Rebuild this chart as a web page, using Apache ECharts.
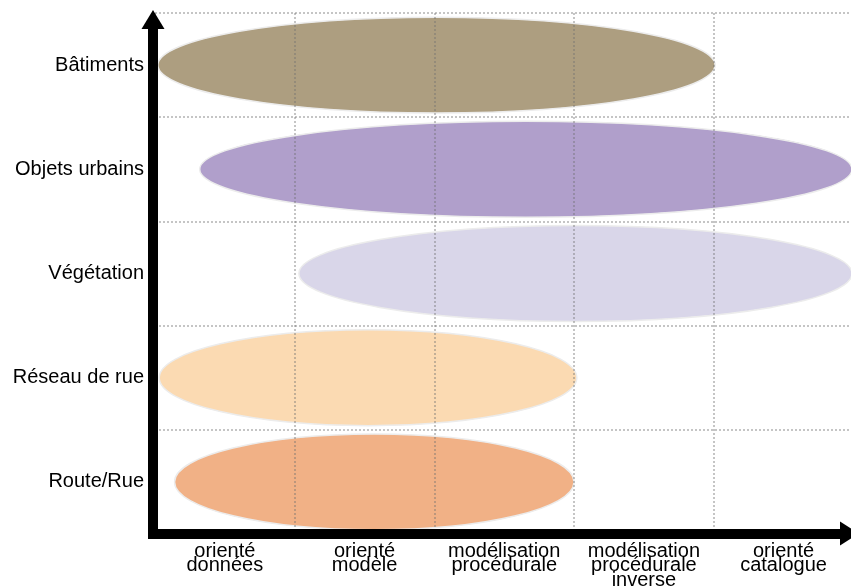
<!DOCTYPE html>
<html>
<head>
<meta charset="utf-8">
<script src="https://cdn.jsdelivr.net/npm/echarts@6/dist/echarts.min.js"></script>
<style>html,body{margin:0;padding:0;background:#fff}#c{width:851px;height:588px}</style>
</head>
<body>
<div id="c"></div>
<script>
// Categories (y from bottom to top) and x-axis method labels
const rowLabels = ['Route/Rue', 'Réseau de rue', 'Végétation', 'Objets urbains', 'Bâtiments'];
const colLabels = ['orienté\ndonnées', 'orienté\nmodèle', 'modélisation\nprocédurale', 'modélisation\nprocédurale\ninverse', 'orienté\ncatalogue'];
// Extent of each ellipse along the x categories (in category units, 0..5)
const startX = [0.14, 0.03, 1.03, 0.32, 0.02];
const endX   = [3.00, 3.02, 4.99, 4.99, 4.01];
// Ellipse height as fraction of a row
const heights = [0.92, 0.92, 0.92, 0.92, 0.92];
const colors = ['#f1b186', '#fbdab2', '#d9d6e9', '#b09fcb', '#ad9e80'];

const data = rowLabels.map((r, i) => [startX[i], endX[i], i + 0.5, heights[i], i]);

const font = 'Liberation Sans, Arial, sans-serif';
const chart = echarts.init(document.getElementById('c'), null, {renderer: 'canvas'});
const split = {show: true, lineStyle: {color: 'rgba(110,110,110,0.4)', width: 2, type: [2, 2]}};

chart.setOption({
  animation: false,
  grid: [
    {left: 155, width: 698.4, top: 13, bottom: 54, outerBoundsMode: 'none', containLabel: false},
    {left: 153, right: 11, top: 29, bottom: 54.5, outerBoundsMode: 'none', containLabel: false}
  ],
  xAxis: [
    {type: 'value', gridIndex: 0, min: 0, max: 5, interval: 1, z: 5, position: 'bottom',
     axisLine: {show: false}, axisTick: {show: false}, axisLabel: {show: false}, splitLine: split},
    {type: 'category', gridIndex: 0, data: colLabels, position: 'bottom', z: 5,
     axisLine: {show: false}, axisTick: {show: false}, splitLine: {show: false},
     axisLabel: {color: '#000', fontFamily: font, fontSize: 20, lineHeight: 14.5, margin: 10, interval: 0}},
    {type: 'value', gridIndex: 1, min: 0, max: 1, z: 6, position: 'bottom',
     axisLine: {show: true, onZero: false, symbol: ['none', 'triangle'], symbolSize: [24, 19], symbolOffset: [0, 9.5],
       lineStyle: {color: '#000', width: 10, cap: 'square'}},
     axisTick: {show: false}, axisLabel: {show: false}, splitLine: {show: false}}
  ],
  yAxis: [
    {type: 'value', gridIndex: 0, min: 0, max: 5, interval: 1, z: 5, position: 'left',
     axisLine: {show: false}, axisTick: {show: false}, axisLabel: {show: false}, splitLine: split},
    {type: 'category', gridIndex: 0, data: rowLabels, z: 5, position: 'left',
     axisLine: {show: false}, axisTick: {show: false}, splitLine: {show: false},
     axisLabel: {color: '#000', fontFamily: font, fontSize: 20, margin: 11}},
    {type: 'value', gridIndex: 1, min: 0, max: 1, z: 6, position: 'left',
     axisLine: {show: true, onZero: false, symbol: ['none', 'triangle'], symbolSize: [23, 19], symbolOffset: [0, 9.5],
       lineStyle: {color: '#000', width: 10, cap: 'square'}},
     axisTick: {show: false}, axisLabel: {show: false}, splitLine: {show: false}}
  ],
  series: [{
    type: 'custom',
    xAxisIndex: 0, yAxisIndex: 0,
    clip: false,
    data: data,
    renderItem: function (params, api) {
      const p0 = api.coord([api.value(0), api.value(2)]);
      const p1 = api.coord([api.value(1), api.value(2)]);
      const h = api.size([0, api.value(3)])[1];
      return {
        type: 'ellipse',
        shape: {cx: (p0[0] + p1[0]) / 2, cy: p0[1], rx: Math.abs(p1[0] - p0[0]) / 2, ry: h / 2},
        style: {fill: colors[api.value(4)], stroke: '#ececec', lineWidth: 1.5}
      };
    }
  }]
});
</script>
</body>
</html>
